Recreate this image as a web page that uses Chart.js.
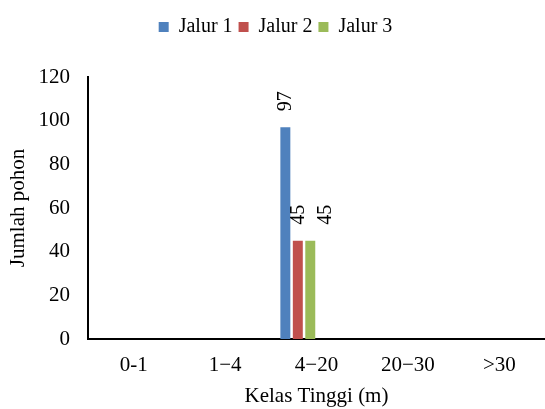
<!DOCTYPE html>
<html>
<head>
<meta charset="utf-8">
<script src="https://cdn.jsdelivr.net/npm/chart.js@4"></script>
<style>
  html, body { margin: 0; padding: 0; background: #fff; }
  #wrap { width: 545px; height: 409px; }
</style>
</head>
<body>
<div id="wrap"><canvas id="tinggiChart" width="545" height="409"></canvas></div>
<script>
// Data
const kelasTinggi = ['0-1', '1\u22124', '4\u221220', '20\u221230', '>30'];
const jalur1 = [null, null, 97, null, null];
const jalur2 = [null, null, 45, null, null];
const jalur3 = [null, null, 45, null, null];
const yTicks = [0, 20, 40, 60, 80, 100, 120];

const fontFam = '"Liberation Serif", "Times New Roman", serif';
const labelShift = [0, 1, 15]; // geser label data seperti di Excel

// label nilai diputar -90 derajat
const dataLabels = {
    id: 'dataLabels',
    afterDatasetsDraw(chart) {
        const ctx = chart.ctx;
        ctx.save();
        ctx.font = '20px ' + fontFam;
        ctx.fillStyle = '#000';
        ctx.textAlign = 'left';
        ctx.textBaseline = 'middle';
        chart.data.datasets.forEach(function(ds, i) {
            if (i > 2) return;
            const meta = chart.getDatasetMeta(i);
            meta.data.forEach(function(bar, j) {
                const v = ds.data[j];
                if (v === null || v === undefined) return;
                ctx.save();
                ctx.translate(bar.x + labelShift[i], bar.y - 16);
                ctx.rotate(-Math.PI / 2);
                ctx.fillText(String(v), 0, 0);
                ctx.restore();
            });
        });
        ctx.restore();
    }
};

const legendMargin = {
    id: 'legendMargin',
    beforeInit(chart) {
        const fit = chart.legend.fit;
        chart.legend.fit = function() {
            fit.bind(chart.legend)();
            this.height += 30;
        };
    }
};

document.addEventListener('DOMContentLoaded', function() {
    const ctx = document.getElementById('tinggiChart').getContext('2d');
    new Chart(ctx, {
        type: 'bar',
        data: {
            labels: kelasTinggi,
            datasets: [
                { label: 'Jalur 1', data: jalur1, backgroundColor: '#4F81BD' },
                { label: 'Jalur 2', data: jalur2, backgroundColor: '#C0504D' },
                { label: 'Jalur 3', data: jalur3, backgroundColor: '#9BBB59' },
                // seri kosong (seperti di file Excel aslinya)
                { label: '', data: [], backgroundColor: 'rgba(0,0,0,0)' },
                { label: '', data: [], backgroundColor: 'rgba(0,0,0,0)' },
                { label: '', data: [], backgroundColor: 'rgba(0,0,0,0)' }
            ]
        },
        options: {
            responsive: false,
            animation: false,
            datasets: {
                bar: { categoryPercentage: 0.818, barPercentage: 0.8 }
            },
            layout: { padding: { left: 6, right: 0, top: 11, bottom: 0 } },
            plugins: {
                legend: {
                    position: 'top',
                    labels: {
                        boxWidth: 10,
                        boxHeight: 10,
                        padding: 6,
                        color: '#000',
                        font: { family: fontFam, size: 20 },
                        filter: function(item) { return item.datasetIndex < 3; }
                    }
                },
                tooltip: { enabled: false }
            },
            scales: {
                x: {
                    afterFit: function(axis) { axis.height = 70; },
                    grid: { display: false, drawTicks: false },
                    border: { display: true, color: '#000', width: 2 },
                    ticks: {
                        color: '#000',
                        padding: 14,
                        font: { family: fontFam, size: 21 }
                    },
                    title: {
                        display: true,
                        text: 'Kelas Tinggi (m)',
                        color: '#000',
                        padding: { top: 6, bottom: 0 },
                        font: { family: fontFam, size: 21 }
                    }
                },
                y: {
                    min: 0,
                    max: 120,
                    afterFit: function(axis) { axis.width = 82; },
                    afterBuildTicks: function(axis) {
                        axis.ticks = yTicks.map(function(v) { return { value: v }; });
                    },
                    grid: { display: false, drawTicks: false },
                    border: { display: true, color: '#000', width: 2 },
                    ticks: {
                        color: '#000',
                        padding: 18,
                        font: { family: fontFam, size: 21 }
                    },
                    title: {
                        display: true,
                        text: 'Jumlah pohon',
                        color: '#000',
                        padding: { top: 0, bottom: 6 },
                        font: { family: fontFam, size: 21 }
                    }
                }
            }
        },
        plugins: [dataLabels, legendMargin]
    });
});
</script>
</body>
</html>
